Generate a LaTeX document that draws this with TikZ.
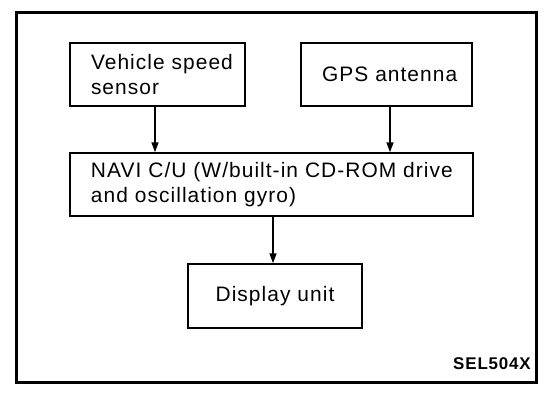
\documentclass[tikz,border=0pt]{standalone}
\usepackage{fontspec}
\setmainfont{Liberation Sans}[LetterSpace=5]
\usetikzlibrary{arrows.meta}
\tikzset{
  blk/.style={draw, line width=1.5bp, rectangle, inner sep=0pt, minimum height=63bp,
    font=\fontsize{21}{25}\selectfont},
  arr/.style={line width=1.5bp, -{Triangle[length=10bp,width=7bp]}},
}
\begin{document}
\begin{tikzpicture}[x=1bp,y=-1bp]
\useasboundingbox (0,0) rectangle (560,392);
\node[draw, line width=3bp, minimum width=519bp, minimum height=370bp, inner sep=0pt] (frame) at (276.5,197) {};
\node[blk, minimum width=175bp, text width=133bp, align=left] (vss) at (157.5,74.5) {\mbox{Vehicle speed}\\sensor};
\node[blk, minimum width=171bp, text width=129bp, align=left] (gps) at (386.5,74.5) {\mbox{GPS antenna}};
\node[blk, minimum width=403bp, text width=361bp, align=left] (navi) at (271.5,184.5) {\mbox{NAVI C/U (W/built-in CD-ROM drive}\\\mbox{and oscillation gyro)}};
\node[blk, minimum width=174bp, minimum height=64bp, text width=132bp, align=center] (disp) at (275,296) {\mbox{Display unit}};
\node[anchor=base east, inner sep=0pt, font=\bfseries\fontsize{17}{17}\selectfont] (code) at (531,369) {SEL504X};
\coordinate (x1) at (155,0);
\coordinate (x2) at (390,0);
\coordinate (x3) at (273,0);
\draw[arr] (vss.south -| x1) -- (navi.north -| x1);
\draw[arr] (gps.south -| x2) -- (navi.north -| x2);
\draw[arr] (navi.south -| x3) -- (disp.north -| x3);
\end{tikzpicture}
\end{document}
